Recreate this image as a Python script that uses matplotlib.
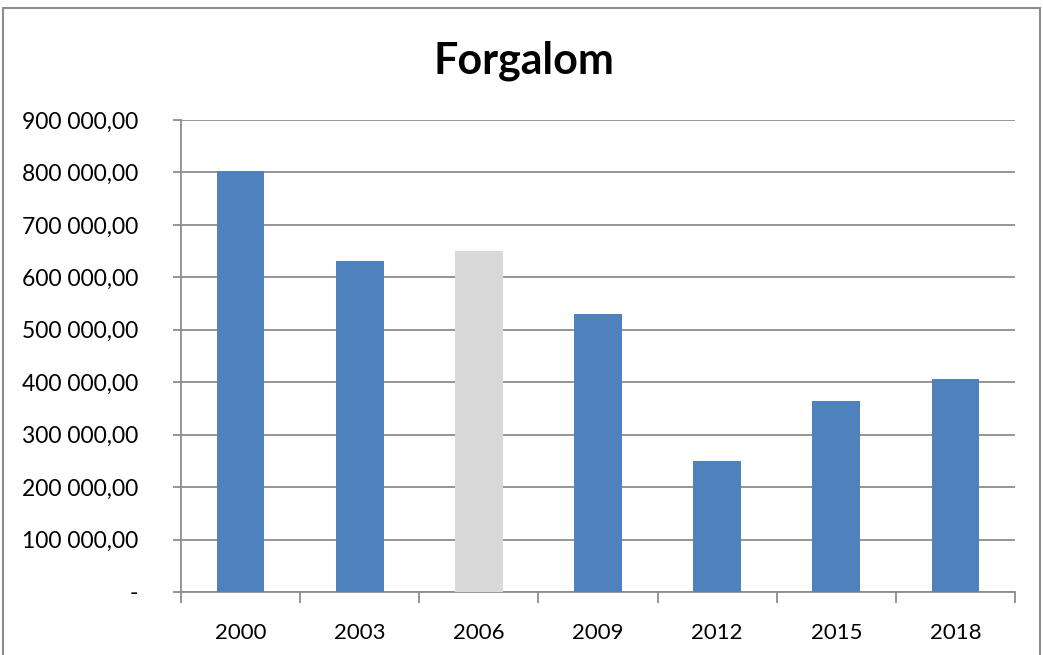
import matplotlib.pyplot as plt
from matplotlib.patches import Rectangle
from matplotlib.ticker import FuncFormatter

# Forgalom évenként
evek = ['2000', '2003', '2006', '2009', '2012', '2015', '2018']
forgalom = [802000, 632000, 650000, 531000, 250000, 364000, 406000]
kiemelt = '2006'

kek = '#4f81bd'
szurke = '#d9d9d9'
racs = '#8c8c8c'

plt.rcParams['font.family'] = ['Lato', 'DejaVu Sans']

fig = plt.figure(figsize=(10.43, 6.55), dpi=100)
ax = fig.add_axes([0.1735, 0.0962, 0.7997, 0.7206])

szinek = [szurke if e == kiemelt else kek for e in evek]
x = range(len(evek))
ax.bar(x, forgalom, width=0.4, color=szinek, zorder=3)

ax.set_xlim(-0.5, len(evek) - 0.5)
ax.set_ylim(0, 900000)
ax.set_yticks(range(0, 900001, 100000))


def formatum(v, pos):
    if v == 0:
        return '-'
    return f'{v:,.2f}'.replace(',', ' ').replace('.', ',')


ax.yaxis.set_major_formatter(FuncFormatter(formatum))
ax.set_xticks(list(x))
ax.set_xticklabels(evek)
ax.set_xticks([i - 0.5 for i in range(len(evek) + 1)], minor=True)

ax.grid(axis='y', color=racs, linewidth=1.3, zorder=0)
for s in ['top', 'right']:
    ax.spines[s].set_visible(False)
ax.spines['left'].set_color(racs)
ax.spines['bottom'].set_color(racs)
ax.spines['left'].set_linewidth(1.3)
ax.spines['bottom'].set_linewidth(1.3)

ax.tick_params(axis='y', direction='out', length=6, color=racs, width=1.3,
               labelsize=16.5, pad=25)
ax.tick_params(axis='x', which='major', length=0, labelsize=16, pad=22)
ax.tick_params(axis='x', which='minor', direction='out', length=8, color=racs, width=1.3)

fig.text(0.502, 0.908, 'Forgalom', ha='center', va='center',
         fontsize=31, fontweight='bold')

# külső keret
fig.patches.append(Rectangle((0.003, -0.01), 0.994, 0.998, transform=fig.transFigure,
                             fill=False, edgecolor='#8c8c8c', linewidth=1.5))

fig.savefig('out.png', dpi=100)
